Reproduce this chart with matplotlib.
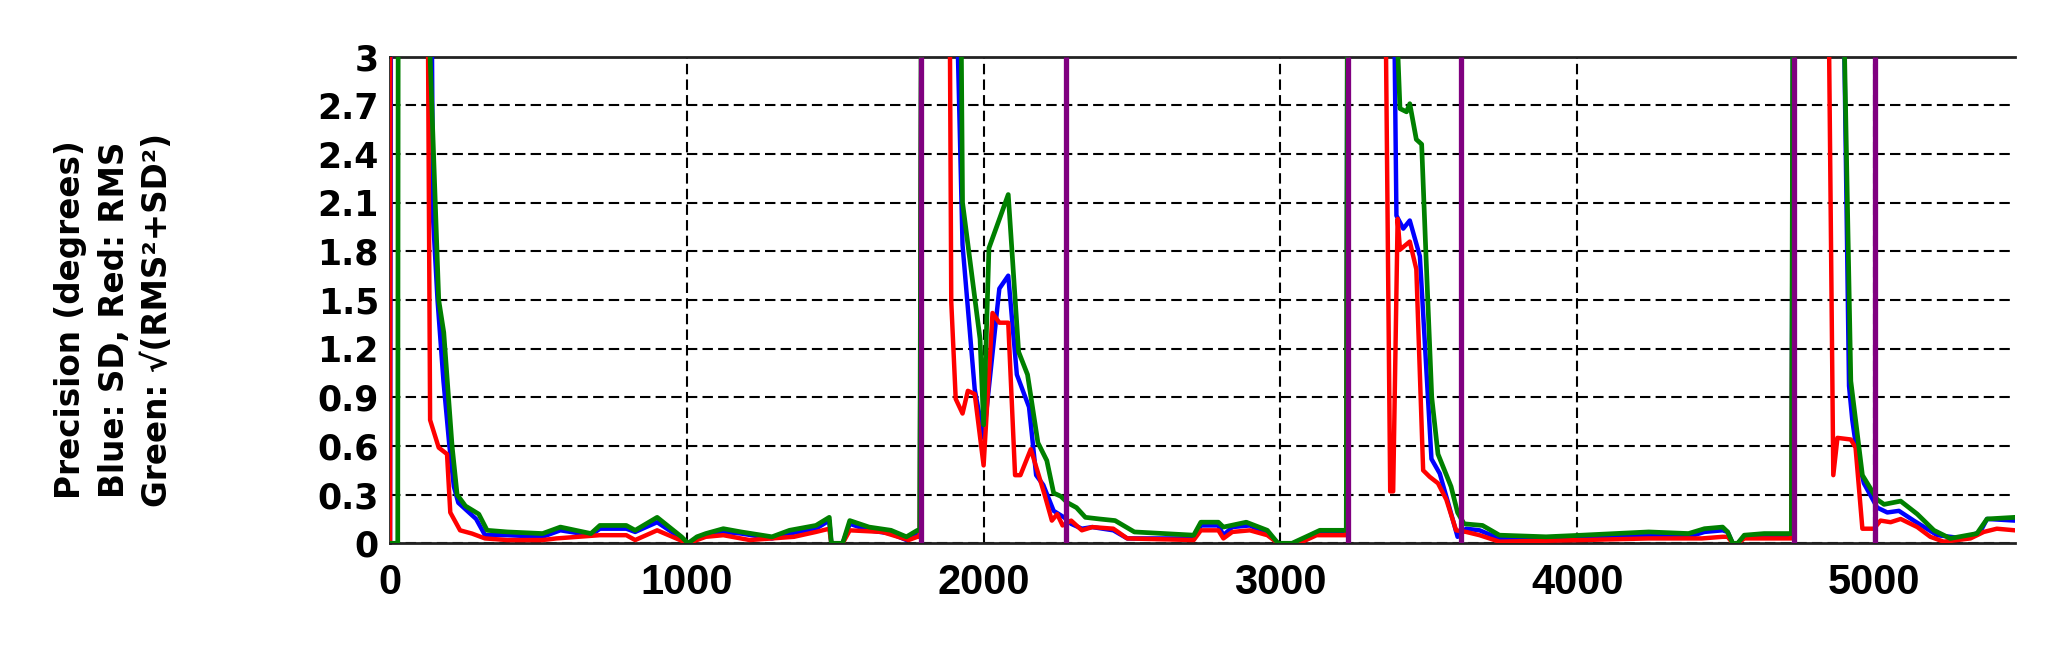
import numpy as np
import matplotlib
matplotlib.use("Agg")
import matplotlib.pyplot as plt

# precision traces (degrees); values above 3 are off the top of the plot
red_x = [0, 2, 110, 135, 164, 192, 203, 236, 276, 320, 395, 514, 560, 707, 796, 826, 900, 990, 1004,
         1064, 1123, 1212, 1361, 1435, 1480, 1487, 1525, 1549, 1658, 1747, 1777, 1785,
         1800, 1870, 1891, 1906, 1929, 1947, 1970, 2000, 2030, 2053, 2083, 2106, 2124, 2159, 2189,
         2207, 2230, 2248, 2266, 2295, 2331, 2366, 2437, 2484, 2708, 2732, 2791, 2808, 2838, 2897,
         2956, 2992, 3063, 3122, 3205, 3222,
         3235, 3340, 3355, 3370, 3380, 3395, 3403, 3436, 3458, 3481, 3503, 3531, 3559, 3592, 3626,
         3671, 3738, 4017, 4241, 4420, 4490, 4507, 4524, 4541, 4563, 4709, 4722,
         4740, 4840, 4848, 4863, 4877, 4922, 4938, 4961, 5000, 5022, 5056, 5090, 5146, 5190, 5235,
         5325, 5370, 5414, 5475]
red_y = [0, 9, 9, 0.76, 0.59, 0.55, 0.19, 0.08, 0.06, 0.03, 0.02, 0.02, 0.03, 0.05, 0.05, 0.02, 0.08, 0.01, 0.0,
         0.04, 0.05, 0.02, 0.04, 0.07, 0.09, 0.0, 0.0, 0.08, 0.07, 0.02, 0.04, 0.04,
         9, 9, 1.49, 0.89, 0.80, 0.94, 0.92, 0.48, 1.42, 1.36, 1.36, 0.42, 0.42, 0.58, 0.40,
         0.29, 0.14, 0.18, 0.11, 0.14, 0.08, 0.10, 0.09, 0.03, 0.02, 0.08, 0.08, 0.03, 0.07, 0.08,
         0.05, 0.0, 0.0, 0.05, 0.05, 0.05,
         9, 9, 3.2, 0.32, 0.32, 2.0, 1.81, 1.86, 1.69, 0.45, 0.41, 0.37, 0.27, 0.08, 0.07,
         0.05, 0.01, 0.02, 0.03, 0.03, 0.04, 0.04, 0.0, 0.0, 0.03, 0.03, 0.03,
         9, 9, 3.2, 0.42, 0.65, 0.64, 0.59, 0.09, 0.09, 0.14, 0.13, 0.15, 0.10, 0.04, 0.01,
         0.03, 0.07, 0.09, 0.08]

blue_x = [0, 8, 120, 145, 160, 180, 200, 215, 230, 260, 290, 320, 395, 514, 574, 677, 707, 796, 826,
          900, 982, 1004, 1034, 1064, 1123, 1183, 1287, 1346, 1435, 1480, 1487, 1525, 1549, 1614, 1688,
          1740, 1777, 1785,
          1800, 1900, 1911, 1929, 1970, 2000, 2053, 2083, 2112, 2153, 2177, 2201, 2236, 2271, 2295,
          2331, 2366, 2437, 2484, 2708, 2732, 2791, 2808, 2838, 2897, 2956, 2992, 3063, 3122, 3205, 3222,
          3232, 3375, 3384, 3391, 3414, 3436, 3470, 3509, 3537, 3565, 3597, 3626, 3671, 3738, 4017,
          4241, 4375, 4429, 4490, 4507, 4524, 4541, 4563, 4709, 4722,
          4737, 4890, 4899, 4916, 4927, 4944, 4966, 5011, 5045, 5084, 5134, 5213, 5302, 5358, 5381, 5475]
blue_y = [0, 9, 9, 2.0, 1.5, 1.0, 0.6, 0.35, 0.25, 0.2, 0.15, 0.05, 0.05, 0.04, 0.08, 0.05, 0.09, 0.09, 0.07,
          0.13, 0.03, 0.0, 0.03, 0.05, 0.07, 0.06, 0.03, 0.06, 0.09, 0.14, 0.0, 0.0, 0.12, 0.08, 0.06,
          0.02, 0.06, 0.06,
          9, 9, 3.2, 1.84, 0.95, 0.65, 1.57, 1.65, 1.04, 0.84, 0.42, 0.36, 0.2, 0.16, 0.12,
          0.09, 0.10, 0.08, 0.03, 0.03, 0.11, 0.11, 0.05, 0.10, 0.11, 0.06, 0.0, 0.0, 0.06, 0.07, 0.07,
          9, 9, 3.2, 2.02, 1.94, 1.99, 1.77, 0.52, 0.43, 0.25, 0.04, 0.09, 0.08, 0.03, 0.03,
          0.05, 0.04, 0.07, 0.08, 0.07, 0.0, 0.0, 0.04, 0.05, 0.05,
          9, 9, 3.2, 0.97, 0.76, 0.54, 0.37, 0.22, 0.19, 0.20, 0.14, 0.05, 0.03, 0.07, 0.15, 0.14]

green_x = [0, 26, 30, 125, 135, 164, 181, 209, 226, 254, 299, 327, 395, 514, 574, 677, 707, 796, 826,
           900, 982, 1004, 1034, 1064, 1123, 1183, 1287, 1346, 1435, 1480, 1487, 1525, 1549, 1614, 1688,
           1740, 1777, 1785,
           1798, 1915, 1923, 1929, 1988, 2000, 2018, 2083, 2118, 2148, 2183, 2213, 2236, 2260, 2283,
           2313, 2343, 2390, 2443, 2508, 2708, 2732, 2791, 2808, 2885, 2956, 2992, 3039, 3098, 3133,
           3205, 3222,
           3232, 3385, 3392, 3403, 3425, 3436, 3458, 3476, 3490, 3510, 3531, 3553, 3575, 3597, 3619,
           3681, 3738, 3895, 4017, 4129, 4241, 4375, 4429, 4490, 4507, 4524, 4541, 4563, 4630, 4709, 4722,
           4735, 4890, 4899, 4922, 4961, 5011, 5034, 5090, 5146, 5202, 5257, 5347, 5381, 5475]
green_y = [0, 0, 9, 9, 3.0, 1.5, 1.3, 0.6, 0.3, 0.23, 0.18, 0.08, 0.07, 0.06, 0.10, 0.06, 0.11, 0.11, 0.08,
           0.16, 0.04, 0.0, 0.04, 0.06, 0.09, 0.07, 0.04, 0.08, 0.11, 0.16, 0.0, 0.0, 0.14, 0.10, 0.08,
           0.04, 0.08, 0.08,
           9, 9, 3.5, 2.1, 1.26, 0.73, 1.82, 2.15, 1.18, 1.04, 0.62, 0.51, 0.31, 0.29, 0.25,
           0.22, 0.16, 0.15, 0.14, 0.07, 0.05, 0.13, 0.13, 0.10, 0.13, 0.08, 0.0, 0.0, 0.05, 0.08,
           0.08, 0.08,
           9, 9, 3.2, 2.68, 2.66, 2.71, 2.49, 2.46, 1.8, 0.9, 0.55, 0.45, 0.35, 0.19, 0.12,
           0.11, 0.05, 0.04, 0.05, 0.06, 0.07, 0.06, 0.09, 0.10, 0.07, 0.0, 0.0, 0.05, 0.06, 0.06, 0.06,
           9, 9, 3.2, 1.0, 0.42, 0.27, 0.24, 0.26, 0.18, 0.08, 0.03, 0.06, 0.15, 0.16]

# segment boundaries (purple markers)
purple_x = [1790, 2277, 3227, 3608, 4731, 5003]

x_ticks = [0, 1000, 2000, 3000, 4000, 5000]
y_ticks = [0, 0.3, 0.6, 0.9, 1.2, 1.5, 1.8, 2.1, 2.4, 2.7, 3.0]
y_tick_labels = ['0', '0.3', '0.6', '0.9', '1.2', '1.5', '1.8', '2.1', '2.4', '2.7', '3']

fig = plt.figure(figsize=(20.55, 6.53), dpi=100)
ax = fig.add_axes([0.1898, 0.168, 0.9805 - 0.1898, 0.9132 - 0.168])

ax.plot(blue_x, blue_y, color='#0000ff', lw=3.2, zorder=3)
ax.plot(red_x, red_y, color='#ff0000', lw=3.2, zorder=4)
ax.plot(green_x, green_y, color='#008000', lw=3.4, zorder=5)
ax.vlines(purple_x, 0, 3, color='#800080', lw=3.8, zorder=6)

ax.set_xlim(0, 5475)
ax.set_ylim(0, 3)
ax.set_xticks(x_ticks)
ax.set_xticklabels([str(v) for v in x_ticks], fontfamily='Liberation Sans',
                   fontweight='bold', fontsize=30)
ax.set_yticks(y_ticks)
ax.set_yticklabels(y_tick_labels, fontfamily='DejaVu Sans', fontweight='bold', fontsize=25)
ax.tick_params(axis='x', length=0, pad=14)
ax.tick_params(axis='y', length=0, pad=8)

ax.grid(True, color='black', linestyle=(0, (5, 2.5)), linewidth=1.5, zorder=1)
ax.set_axisbelow(True)
ax.spines['right'].set_visible(False)
for s in ['top', 'bottom', 'left']:
    ax.spines[s].set_linewidth(2)
    ax.spines[s].set_color('#222222')

fig.text(0.0555, 0.51, 'Precision (degrees)\nBlue: SD, Red: RMS\nGreen: \u221a(RMS\u00b2+SD\u00b2)',
         rotation=90, ha='center', va='center', multialignment='center',
         fontfamily='DejaVu Sans', fontweight='bold', fontsize=23.5, linespacing=1.4)

fig.savefig('out.png', dpi=100)
